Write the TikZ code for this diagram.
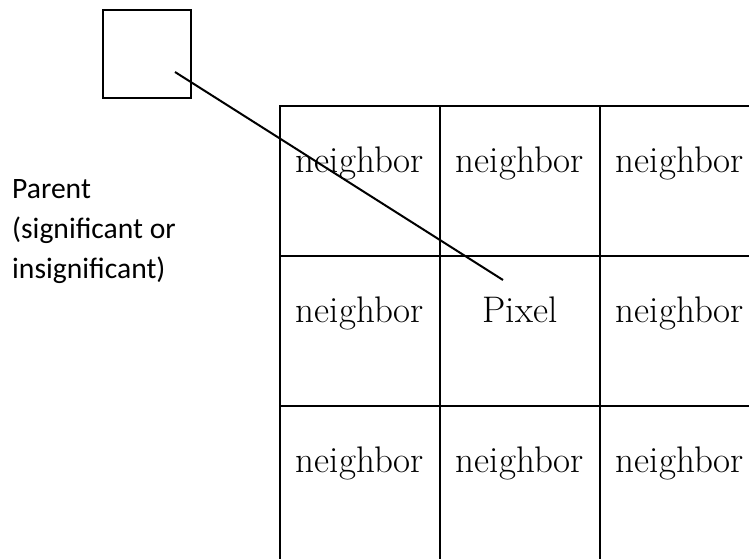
\documentclass[tikz,border=0pt]{standalone}
\usepackage{fontspec}
\newfontfamily\labelfont{Carlito}
\begin{document}
\begin{tikzpicture}[x=1pt,y=-1pt,
  stroke/.style={draw=black,line width=2pt},
  cellbox/.style={stroke,minimum width=160pt,inner sep=0pt},
  celltext/.style={font=\fontsize{37}{44}\selectfont,anchor=base,inner sep=0pt},
  parentbox/.style={stroke,minimum size=88pt,inner sep=0pt},
  sidelabel/.style={font=\labelfont\fontsize{29.6}{40}\selectfont,align=left,anchor=base west,inner sep=0pt}]
\useasboundingbox (0,0) rectangle (749,559);
\clip (0,0) rectangle (749,559);

% parent coefficient
\node[parentbox] (parent) at (147,54) {};
\node[sidelabel] (plabel) at (12,278) {Parent\\(significant or\\insignificant)};

% 3x3 neighbourhood
\foreach \r/\y/\h in {1/180.7/150,2/330.7/150,3/485.7/160}{
  \foreach \c/\x in {1/360,2/520,3/680}{
    \node[cellbox,minimum height=\h pt] (c\r\c) at (\x,\y) {};
  }
}
\foreach \r/\c in {1/1,1/2,1/3,2/1,2/3,3/1,3/2,3/3}{
  \node[celltext] (t\r\c) at ([yshift=-68pt]c\r\c.north) {neighbor};
}
\node[celltext] (t22) at ([yshift=-68pt]c22.north) {Pixel};

% parent-child link
\coordinate (pa) at (175,72);
\coordinate (pe) at (503,280);
\draw[stroke] (pa) -- (pe);
\end{tikzpicture}
\end{document}
